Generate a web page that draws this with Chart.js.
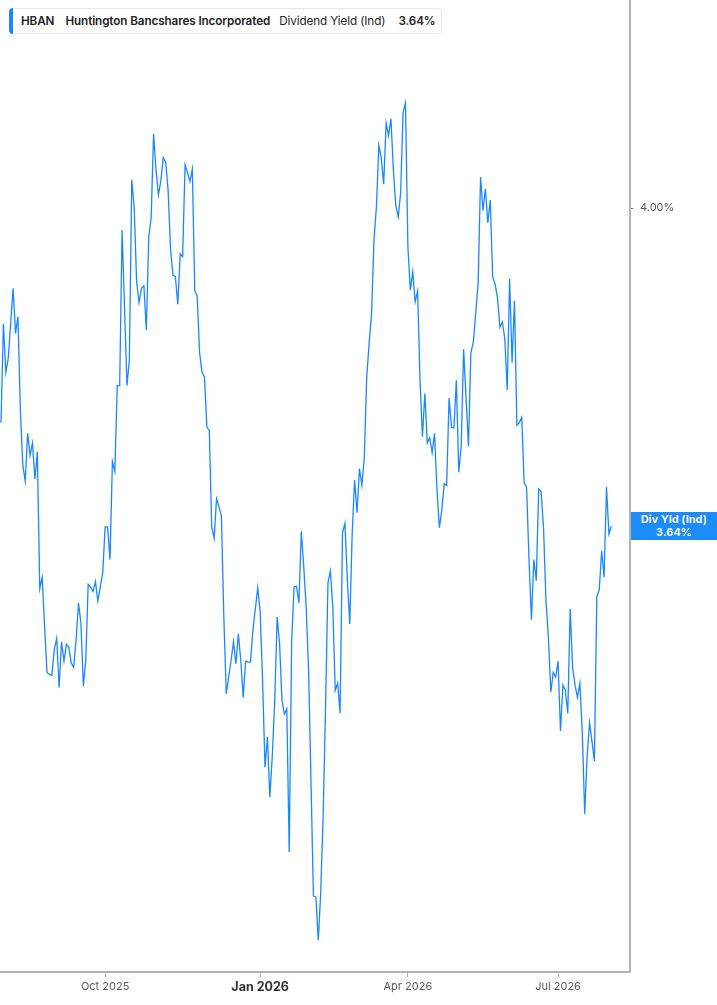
<!DOCTYPE html>
<html>
<head>
<meta charset="utf-8">
<script src="https://cdn.jsdelivr.net/npm/chart.js@4.4.1/dist/chart.umd.min.js"></script>
<style>
  html, body { margin: 0; padding: 0; background: #fff; }
  #wrap { position: relative; width: 717px; height: 1005px; }
  #yieldChart { position: absolute; left: 0; top: 0; }
  .legend-box {
    position: absolute; left: 9px; top: 8px; height: 26px;
    padding: 0 6px 0 11px; box-sizing: border-box;
    border: 1px solid #e8e8e8; border-radius: 4px; background: #fff;
    font-family: Inter, "Liberation Sans", sans-serif; font-size: 11.7px; color: #222;
    letter-spacing: -0.1px;
    display: flex; align-items: center; white-space: nowrap;
  }
  .legend-box::before {
    content: ""; position: absolute; left: -1px; top: -1px; bottom: -1px; width: 4px;
    background: #1888ff; border-radius: 4px 0 0 4px;
  }
  .legend-box b { font-weight: 600; }
  .gap { display: inline-block; }
</style>
</head>
<body>
<div id="wrap">
  <canvas id="yieldChart" width="717" height="1005"></canvas>
  <div class="legend-box">
    <b>HBAN</b><span class="gap" style="width:11px"></span><b>Huntington Bancshares Incorporated</b><span class="gap" style="width:9px"></span><span>Dividend Yield (Ind)</span><span class="gap" style="width:13px"></span><b>3.64%</b>
  </div>
</div>
<script>
// daily dividend yield (%), one trading day per entry, Jul 31 2025 .. Jul 30 2026
const yieldValues = [
  3.757, 3.869, 3.814, 3.830, 3.870, 3.909, 3.858, 3.877, 3.771, 3.709,
  3.691, 3.745, 3.720, 3.734, 3.693, 3.724, 3.569, 3.582, 3.526, 3.474,
  3.472, 3.471, 3.500, 3.513, 3.457, 3.509, 3.487, 3.506, 3.503, 3.485,
  3.480, 3.511, 3.553, 3.530, 3.459, 3.488, 3.574, 3.571, 3.566, 3.577,
  3.555, 3.571, 3.587, 3.639, 3.639, 3.602, 3.713, 3.702, 3.799, 3.799,
  3.975, 3.888, 3.799, 3.828, 4.032, 4.000, 3.916, 3.893, 3.909, 3.912,
  3.862, 3.967, 3.989, 4.084, 4.043, 4.015, 4.031, 4.057, 4.052, 4.020,
  3.953, 3.924, 3.922, 3.891, 3.948, 3.945, 4.049, 4.040, 4.030, 4.044,
  3.907, 3.900, 3.836, 3.814, 3.809, 3.752, 3.748, 3.639, 3.626, 3.671,
  3.662, 3.651, 3.537, 3.450, 3.469, 3.488, 3.509, 3.484, 3.518, 3.488,
  3.446, 3.487, 3.486, 3.486, 3.522, 3.546, 3.570, 3.543, 3.466, 3.367,
  3.401, 3.333, 3.379, 3.440, 3.537, 3.508, 3.443, 3.427, 3.433, 3.271,
  3.508, 3.571, 3.572, 3.553, 3.634, 3.594, 3.548, 3.477, 3.349, 3.221,
  3.220, 3.171, 3.225, 3.311, 3.435, 3.576, 3.589, 3.548, 3.454, 3.462,
  3.428, 3.632, 3.643, 3.579, 3.529, 3.632, 3.692, 3.655, 3.705, 3.686,
  3.718, 3.809, 3.847, 3.881, 3.964, 4.001, 4.071, 4.057, 4.027, 4.096,
  4.082, 4.101, 4.043, 4.003, 3.990, 4.017, 4.108, 4.119, 3.956, 3.907,
  3.928, 3.894, 3.906, 3.805, 3.741, 3.790, 3.734, 3.740, 3.723, 3.745,
  3.681, 3.638, 3.658, 3.688, 3.686, 3.785, 3.752, 3.751, 3.805, 3.701,
  3.730, 3.840, 3.786, 3.730, 3.836, 3.848, 3.881, 3.915, 4.035, 3.997,
  4.022, 3.983, 4.009, 3.922, 3.914, 3.898, 3.865, 3.871, 3.852, 3.794,
  3.920, 3.825, 3.895, 3.754, 3.757, 3.763, 3.689, 3.684, 3.602, 3.534,
  3.602, 3.578, 3.682, 3.679, 3.638, 3.556, 3.514, 3.452, 3.474, 3.469,
  3.487, 3.408, 3.460, 3.454, 3.428, 3.546, 3.480, 3.460, 3.446, 3.462,
  3.406, 3.314, 3.379, 3.417, 3.396, 3.374, 3.560, 3.568, 3.612, 3.582,
  3.684, 3.631, 3.640
];

// x tick labels and the trading-day index they sit on
const xTickLabels = ['Oct 2025', 'Jan 2026', 'Apr 2026', 'Jul 2026'];
const xTickIndex = [43, 107, 168, 230];
const yearStartLabel = 'Jan 2026';

// y tick values
const yTickValues = [4.00];

const tagTitle = 'Div Yld (Ind)';
const lastValue = yieldValues[yieldValues.length - 1];

const lineBlue = 'rgb(24,136,255)';
const axisGrey = '#b3b3b3';

const valueTag = {
  id: 'valueTag',
  afterDraw(chart) {
    const { ctx, chartArea, scales } = chart;
    const y = Math.round(scales.y.getPixelForValue(lastValue));
    const left = chartArea.right + 1;
    const right = chart.width;
    ctx.save();
    ctx.fillStyle = '#1e8cf8';
    ctx.fillRect(left, y - 14, right - left, 28);
    ctx.fillStyle = '#fff';
    ctx.textAlign = 'center';
    ctx.textBaseline = 'middle';
    ctx.font = 'bold 11px Inter, "Liberation Sans", sans-serif';
    const cx = (left + right) / 2;
    ctx.fillText(tagTitle, cx, y - 6);
    ctx.fillText(lastValue.toFixed(2) + '%', cx, y + 7);
    ctx.restore();
  }
};

function noPadding(scale) {
  scale.paddingTop = 0;
  scale.paddingBottom = 0;
  scale.paddingLeft = 0;
  scale.paddingRight = 0;
}

function renderYieldChart() {
  const ctx = document.getElementById('yieldChart');
  Chart.defaults.font.family = 'Inter, "Liberation Sans", sans-serif';

  const points = yieldValues.map((v, i) => ({ x: i, y: v }));

  new Chart(ctx, {
    type: 'line',
    data: {
      datasets: [{
        label: 'Dividend Yield (Ind)',
        data: points,
        borderColor: lineBlue,
        borderWidth: 1.3,
        pointRadius: 0,
        tension: 0,
        fill: false
      }]
    },
    options: {
      responsive: false,
      animation: false,
      devicePixelRatio: 1,
      layout: { padding: 0 },
      plugins: {
        legend: { display: false },
        tooltip: { enabled: false }
      },
      scales: {
        x: {
          type: 'linear',
          min: -0.41,
          max: 259.7,
          afterFit: scale => { scale.height = 33; noPadding(scale); },
          afterBuildTicks: scale => {
            scale.ticks = xTickIndex.map(v => ({ value: v }));
          },
          grid: {
            display: true,
            drawOnChartArea: false,
            drawTicks: true,
            tickLength: 5,
            color: axisGrey
          },
          border: { display: true, color: axisGrey, width: 2 },
          ticks: {
            autoSkip: false,
            maxRotation: 0,
            padding: 3,
            callback: value => xTickLabels[xTickIndex.indexOf(value)],
            color: c => xTickLabels[c.index] === yearStartLabel ? '#333' : '#5a5a5a',
            font: c => xTickLabels[c.index] === yearStartLabel
              ? { size: 12.5, weight: 'bold' }
              : { size: 11 }
          }
        },
        y: {
          type: 'linear',
          position: 'right',
          min: 3.1351,
          max: 4.2355,
          afterFit: scale => { scale.width = 87; noPadding(scale); },
          afterBuildTicks: scale => {
            scale.ticks = yTickValues.map(v => ({ value: v }));
          },
          grid: {
            display: true,
            drawOnChartArea: false,
            drawTicks: true,
            tickLength: 3,
            color: '#666'
          },
          border: { display: true, color: axisGrey, width: 2 },
          ticks: {
            padding: 7,
            color: '#5a5a5a',
            font: { size: 11 },
            callback: value => value.toFixed(2) + '%'
          }
        }
      }
    },
    plugins: [valueTag]
  });
}

document.addEventListener('DOMContentLoaded', renderYieldChart);
</script>
</body>
</html>
